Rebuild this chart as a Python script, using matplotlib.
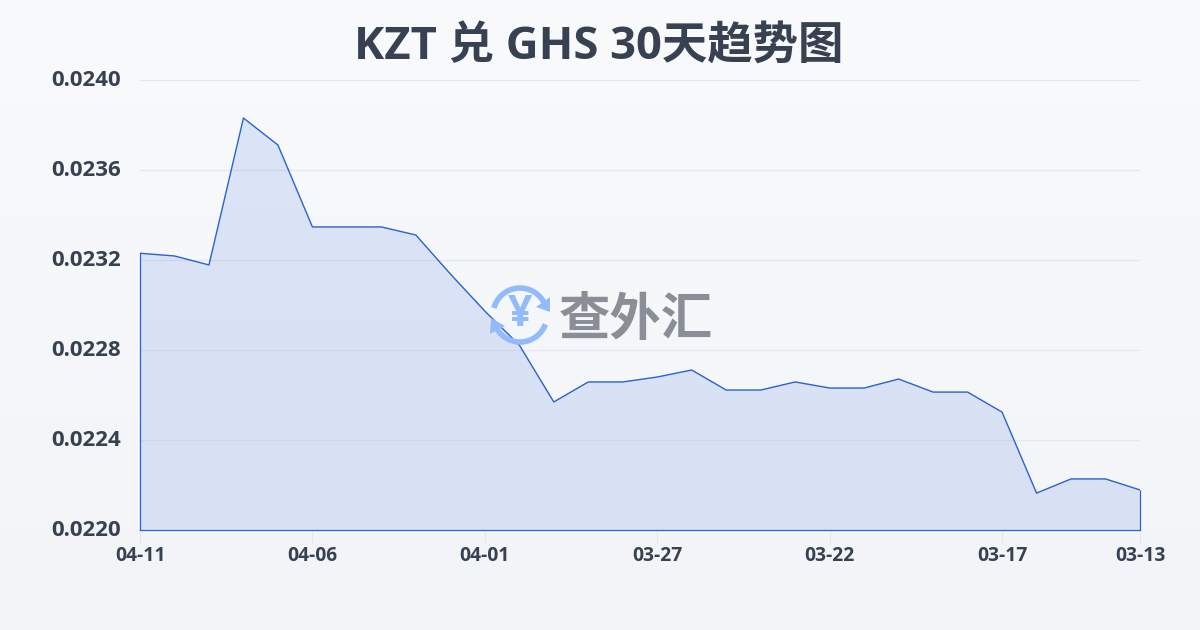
import numpy as np
import matplotlib
matplotlib.use('Agg')
import matplotlib.pyplot as plt
from matplotlib.patches import Arc, Polygon

plt.rcParams['font.family'] = ['Noto Sans CJK SC', 'DejaVu Sans']

dates = ['04-11', '04-10', '04-09', '04-08', '04-07', '04-06', '04-05', '04-04', '04-03', '04-02',
         '04-01', '03-31', '03-30', '03-29', '03-28', '03-27', '03-26', '03-25', '03-24', '03-23',
         '03-22', '03-21', '03-20', '03-19', '03-18', '03-17', '03-16', '03-15', '03-14', '03-13']
rates = [0.02323, 0.023218, 0.023178, 0.023831, 0.023711, 0.023347, 0.023347, 0.023347, 0.023311, 0.023138,
         0.022973, 0.022822, 0.022569, 0.022658, 0.022658, 0.02268, 0.022711, 0.022622, 0.022622, 0.022658,
         0.022631, 0.022631, 0.022671, 0.022613, 0.022613, 0.022524, 0.022164, 0.022227, 0.022227, 0.022178]
x_ticks = [0, 5, 10, 15, 20, 25, 29]
y_ticks = [0.0220, 0.0224, 0.0228, 0.0232, 0.0236, 0.0240]
title = 'KZT 兑 GHS 30天趋势图'

text_color = '#374151'
line_color = '#2b62cc'
latin = ['Open Sans', 'Noto Sans CJK SC', 'DejaVu Sans']

fig = plt.figure(figsize=(12, 6.3), dpi=100)

# page background, light vertical gradient
bg = fig.add_axes([0, 0, 1, 1], zorder=0)
bg.imshow(np.linspace(0, 1, 256).reshape(-1, 1), aspect='auto', cmap=matplotlib.colors.LinearSegmentedColormap.from_list('bg', ['#f8fafc', '#f2f4f7']))
bg.axis('off')

ax = fig.add_axes([140 / 1200, 1 - 530 / 630, 1000 / 1200, 450 / 630], zorder=1)
ax.patch.set_alpha(0)
x = np.arange(len(rates))
ax.fill_between(x, rates, 0.0220, facecolor='#2f66e0', alpha=0.135, lw=0, zorder=2)
ax.plot(x, rates, color=line_color, lw=1.0, zorder=3)
# the area outline closes down the two sides
ax.vlines([x[0], x[-1]], 0.0220, [rates[0], rates[-1]], color=line_color, lw=0.9, zorder=3, clip_on=False)
ax.set_xlim(0, 29)
ax.set_ylim(0.0220, 0.0240)

ax.set_yticks(y_ticks)
ax.set_yticklabels(['%.4f' % v for v in y_ticks], family=latin, fontweight='bold', fontsize=16, color=text_color, va='center')
ax.set_xticks(x_ticks)
ax.set_xticklabels([dates[i] for i in x_ticks], family=latin, fontweight='bold', fontsize=13.9, color=text_color)
ax.tick_params(axis='y', length=0, pad=13.7)
ax.tick_params(axis='x', length=10, width=0.8, color='#e5e7eb', pad=1.5)
ax.grid(axis='y', color='#e5e7ec', lw=0.9, zorder=1)
ax.set_axisbelow(True)
for side in ['top', 'left', 'right']:
    ax.spines[side].set_visible(False)
ax.spines['bottom'].set_color(line_color)
ax.spines['bottom'].set_linewidth(0.9)

fig.text(0.5 - 1 / 1200, 1 - 48 / 630, title, ha='center', va='center', fontsize=32.7, fontweight='bold', color=text_color, zorder=5, family=latin)

# watermark, drawn in pixel coordinates on its own overlay
wm = fig.add_axes([0, 0, 1, 1], zorder=4)
wm.set_xlim(0, 1200)
wm.set_ylim(630, 0)
wm.axis('off')
blue = '#93bbfb'
wm.add_patch(Arc((520, 315), 54, 54, theta1=195, theta2=335, color=blue, lw=4))
wm.add_patch(Arc((520, 315), 54, 54, theta1=20, theta2=150, color=blue, lw=4))
wm.add_patch(Polygon([[550, 297], [550, 312], [536, 307]], color=blue, lw=0))
wm.add_patch(Polygon([[490, 334], [491, 318], [505, 326]], color=blue, lw=0))
wm.text(520, 315, '¥', fontsize=31, fontweight='bold', color=blue, ha='center', va='center', family=latin)
wm.text(636, 319, '查外汇', fontsize=37, fontweight='bold', color='#8a8e96', ha='center', va='center')

fig.savefig('out.png', dpi=100)
